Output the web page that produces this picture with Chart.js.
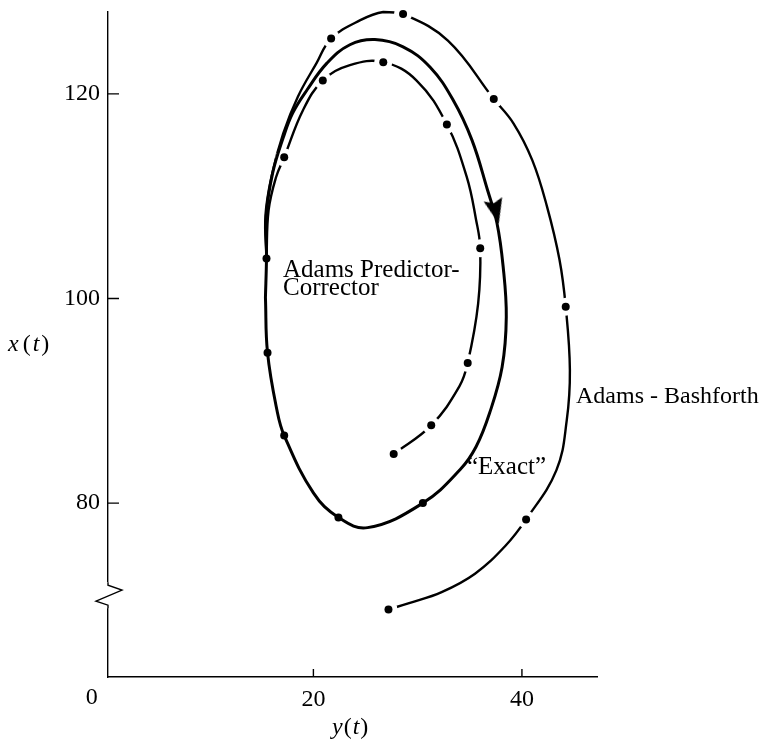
<!DOCTYPE html>
<html>
<head>
<meta charset="utf-8">
<script src="https://cdn.jsdelivr.net/npm/chart.js@4.4.1/dist/chart.umd.min.js"></script>
<style>
  html, body { margin: 0; padding: 0; background: #fff; }
</style>
</head>
<body>
<canvas id="chart" width="763" height="742"></canvas>
<script>
// horizontal axis is y(t), vertical axis is x(t)

// "exact" closed orbit (starts on the left side, runs clockwise)
const exactY = [15.4, 15.5, 15.5, 16.1, 17.1, 18.0, 19.4, 21.3, 23.5, 25.9, 28.6, 31.2, 33.4, 35.2, 36.7, 37.6, 38.2, 38.5, 38.1, 36.9, 35.6, 34.1, 30.5, 25.2, 22.4, 20.0, 17.2, 16.5, 15.6, 15.4];
const exactX = [100.1, 103.9, 108.3, 112.3, 115.7, 118.1, 120.4, 123.0, 124.8, 125.3, 124.6, 122.6, 119.4, 115.5, 110.6, 107.4, 103.1, 98.2, 93.3, 88.8, 85.5, 83.3, 80.0, 77.6, 78.6, 81.0, 86.6, 89.1, 94.7, 100.1];

// starting values shared by both Adams methods
const startY = [30.5, 22.4, 17.2, 15.6, 15.5];
const startX = [80.0, 78.6, 86.6, 94.7, 103.9];

// Adams-Bashforth path and its step marks
const abY = [15.5, 15.4, 16.0, 17.1, 18.5, 20.3, 21.7, 24.5, 26.7, 28.6, 32.9, 37.3, 39.2, 41.0, 42.4, 43.6, 44.2, 44.6, 44.3, 43.3, 40.4, 38.4, 35.5, 32.3, 29.1, 27.2];
const abX = [103.9, 108.1, 112.0, 116.1, 119.7, 123.0, 125.4, 127.2, 128.0, 127.8, 125.2, 119.5, 117.1, 113.5, 109.0, 103.8, 99.2, 93.0, 88.1, 83.2, 78.4, 75.8, 73.1, 71.3, 70.2, 69.6];
const abDotY = [21.7, 28.6, 37.3, 44.2, 40.4, 27.2];
const abDotX = [125.4, 127.8, 119.5, 99.2, 78.4, 69.6];

// Adams predictor-corrector path and its step marks
const pcY = [15.5, 15.7, 16.4, 17.2, 19.0, 20.9, 23.5, 26.7, 29.9, 32.8, 34.7, 35.6, 36.0, 35.8, 34.8, 34.0, 31.3, 27.7];
const pcX = [103.9, 108.6, 111.8, 113.8, 118.4, 121.3, 122.8, 123.1, 121.3, 117.0, 111.9, 107.7, 104.9, 99.5, 93.7, 91.4, 87.6, 84.8];
const pcDotY = [17.2, 20.9, 26.7, 32.8, 36.0, 34.8, 31.3, 27.7];
const pcDotX = [113.8, 121.3, 123.1, 117.0, 104.9, 93.7, 87.6, 84.8];

// direction arrow on the exact orbit
const arrowY = [37.5];
const arrowX = [108.5];
const arrowTurn = 166.5;

const xTicks = [20, 40];
const yTicks = [80, 100, 120];
const axisBreak = 71;

const serif = "'Liberation Serif', 'Times New Roman', serif";

function pts(hs, vs) {
  return hs.map((h, i) => ({ x: h, y: vs[i] }));
}

function arrowHead() {
  const c = document.createElement('canvas');
  c.width = 19;
  c.height = 25;
  const g = c.getContext('2d');
  g.fillStyle = '#000';
  g.beginPath();
  g.moveTo(9.5, 0);
  g.lineTo(19, 25);
  g.lineTo(9.5, 21);
  g.lineTo(0, 25);
  g.closePath();
  g.fill();
  return c;
}

// draws a row of pieces [text, italic, gapAfter]
function drawPieces(ctx, pieces, x, y) {
  for (const [txt, ital, gap] of pieces) {
    ctx.font = (ital ? 'italic ' : '') + '24px ' + serif;
    ctx.fillText(txt, x, y);
    x += ctx.measureText(txt).width + gap;
  }
}

const decor = {
  id: 'decor',
  afterDraw(chart) {
    const { ctx, scales: { x, y }, chartArea } = chart;
    ctx.save();
    ctx.strokeStyle = '#000';
    ctx.lineWidth = 1.4;

    // inward ticks
    ctx.beginPath();
    yTicks.forEach(v => {
      const py = y.getPixelForValue(v);
      ctx.moveTo(chartArea.left, py);
      ctx.lineTo(chartArea.left + 11, py);
    });
    xTicks.forEach(v => {
      const px = x.getPixelForValue(v);
      ctx.moveTo(px, chartArea.bottom);
      ctx.lineTo(px, chartArea.bottom - 8);
    });
    ctx.stroke();

    // axis break on the vertical axis
    const by = y.getPixelForValue(axisBreak);
    const l = chartArea.left;
    ctx.fillStyle = '#fff';
    ctx.fillRect(l - 3, by - 13, 6, 26);
    ctx.beginPath();
    ctx.moveTo(l, by - 13);
    ctx.lineTo(l, by - 10);
    ctx.lineTo(l + 14, by - 5);
    ctx.lineTo(l - 12, by + 6);
    ctx.lineTo(l, by + 10);
    ctx.lineTo(l, by + 13);
    ctx.stroke();

    // text
    ctx.fillStyle = '#000';
    ctx.textBaseline = 'alphabetic';
    ctx.textAlign = 'left';
    ctx.font = '24px ' + serif;
    ctx.fillText('0', x.getPixelForValue(0) - 19, chartArea.bottom + 27);
    ctx.fillText('Adams - Bashforth', 576, 403);
    ctx.font = '25px ' + serif;
    ctx.fillText('Adams Predictor-', 283, 277);
    ctx.fillText('Corrector', 283, 295);
    ctx.fillText('\u201CExact\u201D', 467, 474);

    drawPieces(ctx, [['x', true, 4], ['(', false, 2], ['t', true, 2], [')', false, 0]], 8, 351);
    drawPieces(ctx, [['y', true, 1], ['(', false, 1], ['t', true, 1], [')', false, 0]], 332, 734);
    ctx.restore();
  }
};

const lineBase = {
  showLine: true,
  pointRadius: 0,
  borderColor: '#000',
  tension: 0.4,
  fill: false,
  clip: false
};

new Chart(document.getElementById('chart'), {
  type: 'scatter',
  data: {
    datasets: [
      { ...lineBase, label: 'Adams-Bashforth', data: pts(abY, abX), borderWidth: 2.4, order: 5 },
      { ...lineBase, label: 'Adams Predictor-Corrector', data: pts(pcY, pcX), borderWidth: 2.4, order: 5 },
      {
        label: 'gaps',
        data: [...pts(abDotY, abDotX), ...pts(pcDotY, pcDotX)],
        pointRadius: 9,
        pointBackgroundColor: '#fff',
        pointBorderWidth: 0,
        clip: false,
        order: 4
      },
      { ...lineBase, label: 'Exact', data: pts(exactY, exactX), borderWidth: 3, order: 3 },
      {
        label: 'direction',
        data: pts(arrowY, arrowX),
        pointStyle: arrowHead(),
        pointRadius: 10,
        pointRotation: arrowTurn,
        order: 2
      },
      {
        label: 'steps',
        data: [...pts(startY, startX), ...pts(abDotY, abDotX), ...pts(pcDotY, pcDotX)],
        pointRadius: 4,
        pointBackgroundColor: '#000',
        pointBorderWidth: 0,
        clip: false,
        order: 1
      }
    ]
  },
  options: {
    responsive: false,
    animation: false,
    devicePixelRatio: 1,
    events: [],
    layout: { padding: { top: 12, right: 166, left: 0, bottom: 0 } },
    plugins: { legend: { display: false }, tooltip: { enabled: false } },
    scales: {
      x: {
        type: 'linear',
        min: 0.3,
        max: 47.2,
        grid: { display: false, drawTicks: false },
        border: { display: true, color: '#000', width: 1.4 },
        ticks: { color: '#000', font: { family: serif, size: 24 }, padding: 8 },
        afterBuildTicks: s => { s.ticks = xTicks.map(v => ({ value: v })); },
        afterFit: s => { s.height = 65; s.paddingLeft = 0; s.paddingRight = 0; }
      },
      y: {
        type: 'linear',
        min: 63,
        max: 128,
        grid: { display: false, drawTicks: false },
        border: { display: true, color: '#000', width: 1.4 },
        ticks: { color: '#000', font: { family: serif, size: 24 }, padding: 8 },
        afterBuildTicks: s => { s.ticks = yTicks.map(v => ({ value: v })); },
        afterFit: s => { s.width = 108; s.paddingTop = 0; s.paddingBottom = 0; }
      }
    }
  },
  plugins: [decor]
});
</script>
</body>
</html>
